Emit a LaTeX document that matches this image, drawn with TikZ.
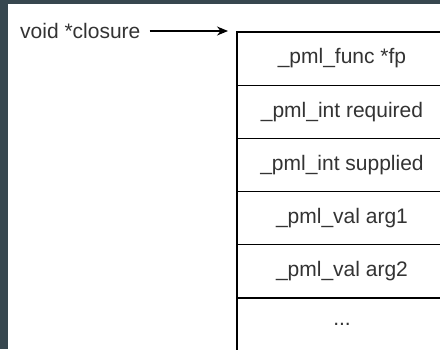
\documentclass[tikz,border=0pt]{standalone}
\usepackage{fontspec}
\setmainfont{Liberation Sans}
\usetikzlibrary{positioning,arrows.meta}
\definecolor{framecol}{HTML}{37474F}

\begin{document}
\begin{tikzpicture}[
  x=1pt, y=-1pt,
  node distance=0pt,
  field/.style={rectangle, draw, line width=1.2pt, minimum width=210pt, minimum height=53.2pt, outer sep=0pt, align=center, font=\fontsize{21}{25}\selectfont, text=black!80},
  arrow/.style={-{Stealth[length=11pt,width=9pt]}, line width=1.2pt}
]
  \useasboundingbox (0,0) rectangle (440,349);
  \fill[framecol] (0,0) rectangle (440,349);
  \fill[white] (8,4) rectangle (440,349);
  \begin{scope}
  \clip (8,4) rectangle (440,349);
  % the closure record, one field per row
  \node[field] (fp) at (342,58.5) {\_pml\_func *fp};
  \node[field, below=of fp] (req) {\_pml\_int required};
  \node[field, below=of req] (sup) {\_pml\_int supplied};
  \node[field, below=of sup] (arga) {\_pml\_val arg1};
  \node[field, below=of arga] (argb) {\_pml\_val arg2};
  \node[field, below=of argb] (more) {...};
  \node[anchor=west, inner sep=0pt, font=\fontsize{21}{25}\selectfont, text=black!80] (ptr) at (20,31) {void *closure};
  \draw[arrow, shorten <=9pt, shorten >=9pt] (ptr.east) -- (ptr.east -| fp.north west);
  \end{scope}
\end{tikzpicture}
\end{document}
